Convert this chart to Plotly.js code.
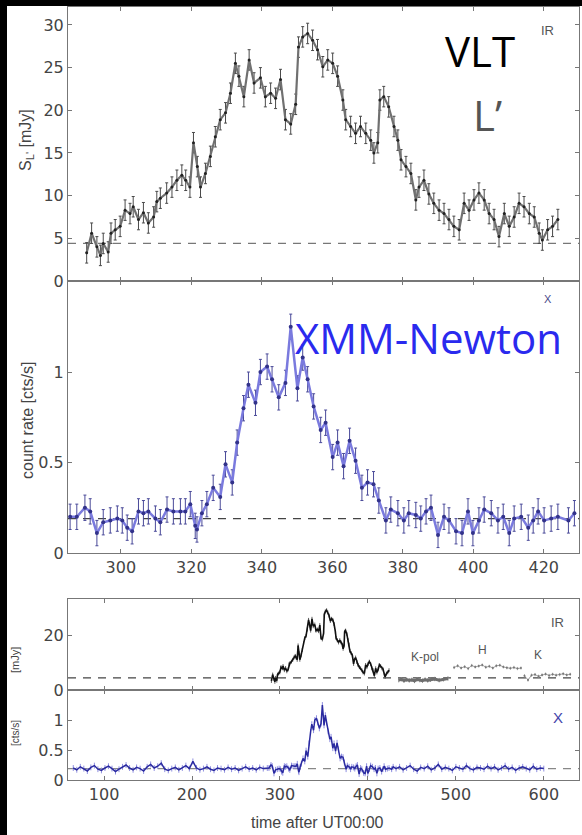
<!DOCTYPE html>
<html>
<head>
<meta charset="utf-8">
<script src="https://cdn.plot.ly/plotly-3.0.1.min.js"></script>
<style>
  html, body { margin: 0; padding: 0; background: #fff; }
  #plot { width: 582px; height: 835px; }
</style>
</head>
<body>
<div id="plot"></div>
<script>
// ---- Infrared L' light curve (VLT), minutes after UT00:00 ----
const irT = [290.3,291.7,293.2,294.2,295.0,296.4,297.2,298.4,299.8,301.2,302.6,303.5,305.0,306.4,307.8,309.3,
  310.2,311.2,313.0,314.5,315.9,317.3,318.4,319.6,320.6,321.7,322.6,324.0,325.4,326.8,328.2,329.7,331.1,332.5,
  333.5,334.9,336.4,337.8,339.6,341.0,342.5,343.9,345.3,346.7,348.2,349.6,350.4,351.6,353.0,354.4,355.8,357.3,
  358.7,360.1,361.5,363.0,363.8,365.2,366.6,368.0,369.5,370.9,371.8,372.9,373.5,374.6,376.0,377.5,378.6,379.5,
  380.9,382.3,383.7,384.6,386.0,387.4,388.8,390.3,391.7,393.1,394.5,396.0,397.4,398.8,400.2,401.6,403.1,404.5,
  405.9,407.3,408.8,410.2,411.6,413.0,414.4,415.9,417.3,418.7,419.6,421.1,422.5,424.0];
const irV = [3.3,5.6,4.0,3.0,4.4,3.4,5.6,6.0,6.4,8.3,7.9,8.7,7.2,8.0,6.8,7.5,
  9.3,9.7,10.3,11.0,11.8,12.4,11.8,11.0,16.2,13.4,11.0,12.6,14.6,16.9,18.9,19.7,22.0,25.5,
  24.0,21.6,25.9,23.2,23.8,21.6,22.0,21.4,23.6,18.9,18.4,20.7,27.4,28.6,29.0,28.2,27.1,25.1,
  25.9,25.5,24.0,21.2,18.9,18.1,17.3,18.1,17.3,16.5,15.0,16.2,21.2,21.6,20.4,18.1,16.5,14.2,
  13.4,12.6,9.5,11.0,11.8,10.2,9.1,8.3,7.9,7.2,6.4,6.0,9.1,8.3,9.5,10.3,9.5,7.9,
  7.2,5.2,7.9,6.4,7.5,9.1,8.7,7.9,7.5,5.6,4.8,6.0,6.4,7.2];
const irErr = 1.2;
const irBase = 4.4;

// ---- X-ray count rate (XMM-Newton), flare window ----
const xT = [285.6,287.5,289.8,291.3,293.2,295.0,297.0,299.0,300.4,301.8,303.2,305.0,306.4,307.8,309.8,311.2,
  313.1,314.9,316.9,318.3,319.7,321.1,321.6,323.0,324.4,326.2,328.2,329.7,331.6,333.0,334.8,336.2,338.2,339.6,
  341.5,342.9,344.8,346.7,348.2,350.1,351.6,353.0,354.7,356.7,358.1,360.1,361.5,363.2,364.9,366.6,368.4,370.0,
  371.7,373.2,375.2,376.6,378.6,380.3,381.7,383.7,385.1,386.6,388.0,390.0,391.7,393.1,395.1,396.8,398.5,399.9,
  401.6,403.1,405.1,407.0,408.5,410.2,411.6,413.6,415.6,417.0,418.4,420.1,422.1,424.0,427.0,428.7];
const xV = [0.20,0.20,0.25,0.23,0.11,0.17,0.18,0.19,0.18,0.14,0.12,0.23,0.22,0.23,0.19,0.17,
  0.24,0.23,0.23,0.23,0.27,0.15,0.13,0.22,0.27,0.36,0.31,0.49,0.39,0.61,0.80,0.93,0.83,1.00,
  1.03,0.96,0.86,0.94,1.25,0.91,1.08,0.96,0.81,0.68,0.72,0.53,0.61,0.48,0.62,0.51,0.36,0.39,
  0.38,0.29,0.18,0.24,0.22,0.18,0.22,0.21,0.19,0.23,0.25,0.10,0.20,0.18,0.12,0.11,0.23,0.11,
  0.18,0.24,0.22,0.18,0.20,0.11,0.19,0.20,0.14,0.18,0.23,0.18,0.19,0.20,0.18,0.22];
const xErr = 0.07;
const xBase = 0.19;

// ---- X-ray quiescence before and after the flare window ----
const xEarlyT = [65,69,73,77,81,85,89,93,97,101,105,109,113,117,121,125,129,133,137,141,145,149,153,157,
  161,165,169,173,177,181,185,189,193,197,201,205,209,213,217,221,225,229,233,237,241,245,249,253,257,261,
  265,269,273,277,281];
const xEarlyV = [0.20,0.17,0.22,0.19,0.15,0.21,0.24,0.18,0.16,0.20,0.23,0.19,0.14,0.18,0.22,0.25,0.20,0.17,
  0.21,0.19,0.15,0.22,0.26,0.20,0.23,0.28,0.18,0.16,0.19,0.21,0.17,0.20,0.24,0.19,0.31,0.20,0.17,0.19,0.22,
  0.18,0.16,0.20,0.19,0.17,0.21,0.18,0.20,0.16,0.19,0.22,0.18,0.20,0.17,0.21,0.19];
const xLateT = [432,436,440,444,448,452,456,460,464,468,472,476,480,484,488,492,496,500,504,508,512,516,520,
  524,528,532,536,540,544,548,552,556,560,564,568,572,576,580,584,588,592,596,600];
const xLateV = [0.19,0.22,0.17,0.20,0.24,0.18,0.15,0.21,0.19,0.23,0.17,0.20,0.26,0.18,0.21,0.19,0.16,0.22,
  0.20,0.18,0.24,0.19,0.17,0.21,0.20,0.18,0.23,0.19,0.22,0.17,0.20,0.24,0.18,0.21,0.16,0.20,0.22,0.19,0.17,
  0.23,0.18,0.20,0.19];

// ---- Other near-infrared bands in the overview ----
const kpolT = [435,438,441,444,447,450,453,456,459,462,465,468,471,476,481,486,491];
const kpolV = [3.6,3.9,3.4,3.8,3.5,3.7,3.3,3.9,3.6,3.4,3.8,3.5,3.7,4.0,3.6,3.9,4.2];
const hT = [498,502,506,510,514,518,522,526,530,534,538,542,546,550,554,558,562,566,570,574];
const hV = [8.2,8.8,8.0,8.5,7.8,8.9,8.4,8.7,9.1,8.3,8.6,8.0,8.8,9.0,8.4,8.1,7.9,8.2,7.8,8.0];
const kT = [578,582,586,590,594,598,602,606,610,614,618,622,626,630];
const kV = [5.2,3.6,5.4,5.6,5.0,5.5,5.8,5.3,5.7,5.4,5.6,5.9,5.5,5.7];

// tick labels
const zoomTicks = [300,320,340,360,380,400,420];
const fullTicks = [100,200,300,400,500,600];
const irTicks = [0,5,10,15,20,25,30];
const rateTicks = [0,0.5,1];

// ---- page geometry (pixels -> paper fractions) ----
const W = 582, H = 835;
const px = v => v / W;
const py = v => 1 - v / H;

const axisFont = {family: 'DejaVu Sans, sans-serif', size: 16, color: '#444'};
const baseAxis = {
  showline: true, mirror: 'ticks', linecolor: '#777', linewidth: 1,
  ticks: 'inside', ticklen: 4, tickcolor: '#777', tickwidth: 1,
  showgrid: false, zeroline: false, tickfont: axisFont, fixedrange: true
};
const xDom = [px(68), px(579)];

const traces = [
  { // IR zoom
    x: irT, y: irV, xaxis: 'x2', yaxis: 'y', mode: 'lines+markers', type: 'scatter',
    line: {color: '#707070', width: 2.2}, marker: {size: 3, color: '#222'},
    error_y: {type: 'constant', value: irErr, color: '#4a4a4a', thickness: 1, width: 1.5}
  },
  { // X-ray zoom
    x: xT, y: xV, xaxis: 'x', yaxis: 'y2', mode: 'lines+markers', type: 'scatter',
    line: {color: '#7a7ade', width: 2.5}, marker: {size: 4, color: '#32328a'},
    error_y: {type: 'constant', value: xErr, color: '#4a4a99', thickness: 1, width: 1.5}
  },
  { // IR overview
    x: irT, y: irV, xaxis: 'x3', yaxis: 'y3', mode: 'lines', type: 'scatter',
    line: {color: '#111', width: 1.6},
    error_y: {type: 'constant', value: irErr * 0.6, color: '#333', thickness: 0.8, width: 0}
  },
  { // K-pol
    x: kpolT, y: kpolV, xaxis: 'x3', yaxis: 'y3', mode: 'lines', type: 'scatter',
    line: {color: '#6e6e6e', width: 3},
    error_y: {type: 'constant', value: 0.8, color: '#888', thickness: 1, width: 0}
  },
  { // H
    x: hT, y: hV, xaxis: 'x3', yaxis: 'y3', mode: 'lines+markers', type: 'scatter',
    line: {color: '#888', width: 0.8}, marker: {size: 2, color: '#777'},
    error_y: {type: 'constant', value: 0.6, color: '#999', thickness: 0.7, width: 0}
  },
  { // K
    x: kT, y: kV, xaxis: 'x3', yaxis: 'y3', mode: 'lines+markers', type: 'scatter',
    line: {color: '#888', width: 0.8}, marker: {size: 2, color: '#777'},
    error_y: {type: 'constant', value: 0.6, color: '#999', thickness: 0.7, width: 0}
  },
  { // X-ray overview
    x: xEarlyT.concat(xT, xLateT), y: xEarlyV.concat(xV, xLateV),
    xaxis: 'x4', yaxis: 'y4', mode: 'lines', type: 'scatter',
    line: {color: '#2a2aa0', width: 1.5},
    error_y: {type: 'constant', value: xErr * 0.7, color: '#8f8fe0', thickness: 1, width: 0}
  }
];

function dashed(xref, yref, y, color) {
  return {type: 'line', xref: xref, yref: yref, x0: 0, x1: 1, y0: y, y1: y, layer: 'below',
          line: {color: color, width: 1.2, dash: '8px,7px'}};
}

function note(text, x, y, size, color, family, angle) {
  return {text: text, xref: 'paper', yref: 'paper', x: px(x), y: py(y),
          xanchor: 'center', yanchor: 'middle', showarrow: false, textangle: angle || 0,
          font: {family: family || 'Liberation Sans, Arial, sans-serif', size: size, color: color}};
}
const handFont = 'Comic Sans MS, Open Sans, sans-serif';

const layout = {
  width: W, height: H,
  margin: {l: 0, r: 0, t: 0, b: 0, pad: 0},
  paper_bgcolor: '#fff', plot_bgcolor: '#fff',
  showlegend: false,
  xaxis: Object.assign({}, baseAxis, {domain: xDom, anchor: 'y2', range: [285, 430],
    tickvals: zoomTicks, ticktext: zoomTicks.map(String)}),
  xaxis2: Object.assign({}, baseAxis, {domain: xDom, anchor: 'y', range: [285, 430],
    tickvals: zoomTicks, showticklabels: false}),
  xaxis3: Object.assign({}, baseAxis, {domain: xDom, anchor: 'y3', range: [59, 640],
    tickvals: fullTicks, showticklabels: false}),
  xaxis4: Object.assign({}, baseAxis, {domain: xDom, anchor: 'y4', range: [59, 640],
    tickvals: fullTicks, ticktext: fullTicks.map(String)}),
  yaxis: Object.assign({}, baseAxis, {domain: [py(281), py(7)], anchor: 'x2', range: [0, 32.1],
    tickvals: irTicks, ticktext: irTicks.map(String)}),
  yaxis2: Object.assign({}, baseAxis, {domain: [py(553), py(281)], anchor: 'x', range: [0, 1.503],
    tickvals: rateTicks, ticktext: ['0', '0.5', '1']}),
  yaxis3: Object.assign({}, baseAxis, {domain: [py(690), py(599)], anchor: 'x3', range: [0, 33.1],
    tickvals: [0, 20], ticktext: ['0', '20']}),
  yaxis4: Object.assign({}, baseAxis, {domain: [py(780), py(690)], anchor: 'x4', range: [0, 1.5],
    tickvals: rateTicks, ticktext: ['0', '0.5', '1']}),
  shapes: [
    dashed('x2 domain', 'y', irBase, '#777'),
    dashed('x domain', 'y2', xBase, '#444'),
    dashed('x3 domain', 'y3', irBase, '#444'),
    dashed('x4 domain', 'y4', xBase, '#888'),
    {type: 'rect', xref: 'paper', yref: 'paper', x0: 0, x1: 1, y0: py(6), y1: 1,
     fillcolor: '#000', line: {width: 0}, layer: 'above'},
    {type: 'rect', xref: 'paper', yref: 'paper', x0: 0, x1: px(7), y0: 0, y1: 1,
     fillcolor: '#000', line: {width: 0}, layer: 'above'}
  ],
  annotations: [
    note('S<sub>L\'</sub> [mJy]', 26, 140, 16, '#444', null, -90),
    note('count rate [cts/s]', 27, 421, 16, '#444', null, -90),
    note('[mJy]', 15, 660, 11, '#444', null, -90),
    note('[cts/s]', 15, 733, 10, '#444', null, -90),
    note('time after UT00:00', 317, 822, 16, '#444'),
    note('VLT', 480, 50, 42, '#000', handFont),
    note('L’', 487, 114, 42, '#555', handFont),
    note('IR', 547, 31, 13, '#555'),
    note('XMM-Newton', 428, 337, 42, '#2a2aee', handFont),
    note('X', 548, 299, 11, '#4b4b8a'),
    note('IR', 557, 622, 13, '#555'),
    note('K-pol', 425, 657, 12, '#555'),
    note('H', 482, 650, 12, '#555'),
    note('K', 538, 655, 12, '#555'),
    note('X', 558, 717, 15, '#4444aa')
  ]
};

Plotly.newPlot('plot', traces, layout, {displayModeBar: false, staticPlot: true});
</script>
</body>
</html>
